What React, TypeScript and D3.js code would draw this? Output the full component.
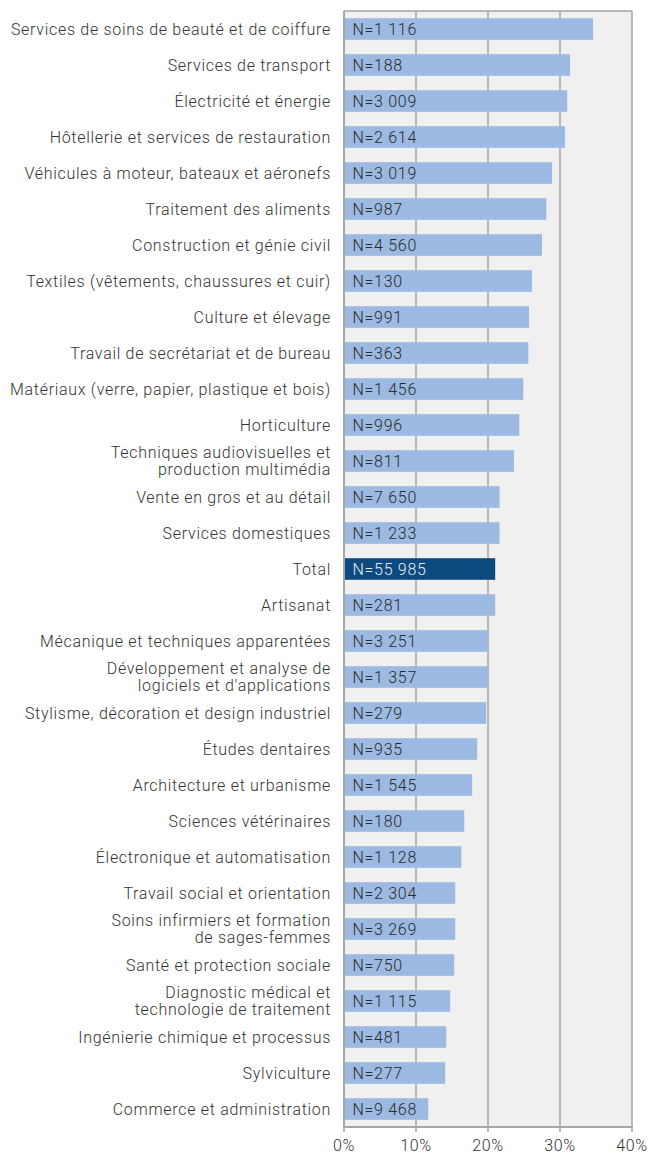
import React from "react";
import * as d3 from "d3";

const categories: string[] = [
  "Services de soins de beauté et de coiffure",
  "Services de transport",
  "Électricité et énergie",
  "Hôtellerie et services de restauration",
  "Véhicules à moteur, bateaux et aéronefs",
  "Traitement des aliments",
  "Construction et génie civil",
  "Textiles (vêtements, chaussures et cuir)",
  "Culture et élevage",
  "Travail de secrétariat et de bureau",
  "Matériaux (verre, papier, plastique et bois)",
  "Horticulture",
  "Techniques audiovisuelles et\nproduction multimédia",
  "Vente en gros et au détail",
  "Services domestiques",
  "Total",
  "Artisanat",
  "Mécanique et techniques apparentées",
  "Développement et analyse de\nlogiciels et d'applications",
  "Stylisme, décoration et design industriel",
  "Études dentaires",
  "Architecture et urbanisme",
  "Sciences vétérinaires",
  "Électronique et automatisation",
  "Travail social et orientation",
  "Soins infirmiers et formation\nde sages-femmes",
  "Santé et protection sociale",
  "Diagnostic médical et\ntechnologie de traitement",
  "Ingénierie chimique et processus",
  "Sylviculture",
  "Commerce et administration",
];

const values: number[] = [
  34.6, 31.4, 31.0, 30.7, 28.9, 28.1, 27.5, 26.1, 25.7, 25.6, 24.9, 24.35,
  23.6, 21.6, 21.6, 21.0, 21.0, 19.95, 19.95, 19.75, 18.5, 17.8, 16.7, 16.3,
  15.45, 15.45, 15.3, 14.75, 14.2, 14.05, 11.7,
];

const counts: string[] = [
  "N=1 116", "N=188", "N=3 009", "N=2 614", "N=3 019", "N=987", "N=4 560",
  "N=130", "N=991", "N=363", "N=1 456", "N=996", "N=811", "N=7 650",
  "N=1 233", "N=55 985", "N=281", "N=3 251", "N=1 357", "N=279", "N=935",
  "N=1 545", "N=180", "N=1 128", "N=2 304", "N=3 269", "N=750", "N=1 115",
  "N=481", "N=277", "N=9 468",
];

const ticks: number[] = [0, 10, 20, 30, 40];

const W = 649;
const H = 1154;
const left = 344;
const right = 632;
const top = 11;
const bottom = 1127;
const FONT = "Roboto, 'Noto Sans', sans-serif";
const LS = 0.7;

export default function App() {
  const x = d3.scaleLinear().domain([0, 40]).range([left, right]);
  const y = d3
    .scaleBand<number>()
    .domain(d3.range(categories.length))
    .range([top, bottom])
    .paddingInner(0.4)
    .paddingOuter(0.2);

  return (
    <svg
      width={W}
      height={H}
      style={{ position: "absolute", left: 0, top: 0 }}
      fontFamily={FONT}
    >
      <rect x={left} y={top} width={right - left} height={bottom - top} fill="#f0f0f0" />
      {ticks.slice(1).map((t) => (
        <line key={t} x1={x(t)} x2={x(t)} y1={top} y2={bottom} stroke="#a6a6a6" strokeWidth={1.5} />
      ))}
      <line x1={left} x2={right} y1={top} y2={top} stroke="#a6a6a6" strokeWidth={1.5} />
      {values.map((v, i) => {
        const isTotal = categories[i] === "Total";
        const yy = y(i)!;
        return (
          <g key={i}>
            <rect
              x={x(0)}
              y={yy}
              width={x(v) - x(0)}
              height={y.bandwidth()}
              fill={isTotal ? "#0c4a7f" : "#9cb9e1"}
            />
            <text
              x={x(0) + 8.5}
              y={yy + y.bandwidth() / 2}
              dy="0.35em"
              fontSize={16}
              fontWeight={300}
              letterSpacing={LS}
              fill={isTotal ? "#e6ecf3" : "#2b2b2b"}
            >
              {counts[i]}
            </text>
          </g>
        );
      })}
      {categories.map((c, i) => {
        const lines = c.split("\n");
        const cy = y(i)! + y.bandwidth() / 2;
        const lh = 17.7;
        return (
          <text
            key={i}
            x={331}
            textAnchor="end"
            fontSize={16}
            fontWeight={300}
            letterSpacing={LS}
            fill="#333333"
          >
            {lines.map((l, j) => (
              <tspan key={j} x={331} y={cy + (j - (lines.length - 1) / 2) * lh} dy="0.35em">
                {l}
              </tspan>
            ))}
          </text>
        );
      })}
      <line x1={left} x2={left} y1={top} y2={bottom} stroke="#a6a6a6" strokeWidth={2} />
      <line x1={left - 1} x2={right + 1} y1={bottom} y2={bottom} stroke="#a6a6a6" strokeWidth={2} />
      {ticks.map((t) => (
        <g key={t}>
          <line x1={x(t)} x2={x(t)} y1={bottom} y2={bottom + 5} stroke="#a6a6a6" strokeWidth={1.5} />
          <text
            x={x(t)}
            y={1145}
            dy="0.35em"
            textAnchor="middle"
            fontSize={16}
            fontWeight={300}
            letterSpacing={LS}
            fill="#333333"
          >
            {t}%
          </text>
        </g>
      ))}
    </svg>
  );
}
